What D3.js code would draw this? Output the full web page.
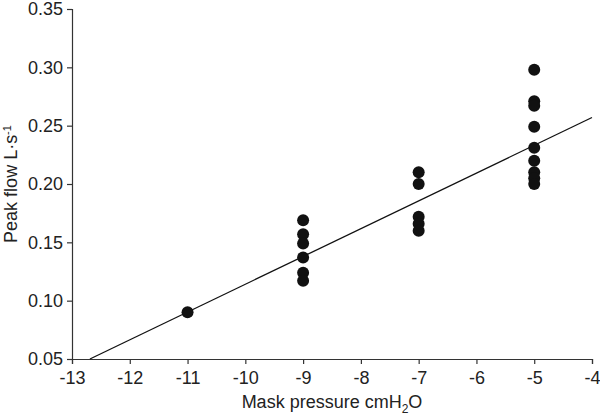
<!DOCTYPE html>
<html><head><meta charset="utf-8">
<script src="https://cdn.jsdelivr.net/npm/d3@7"></script>
<style>
body{margin:0;background:#fff;}
svg{display:block;}
text{font-family:"Liberation Sans",Arial,sans-serif;fill:#222;}
</style></head>
<body>
<svg id="chart" width="600" height="416"></svg>
<script>
// Data
const pressures = [-11, -9,-9,-9,-9,-9,-9, -7,-7,-7,-7,-7, -5,-5,-5,-5,-5,-5,-5,-5,-5];
const peakFlow  = [0.090, 0.169,0.157,0.149,0.137,0.124,0.117, 0.210,0.200,0.172,0.166,0.160, 0.298,0.271,0.267,0.249,0.231,0.220,0.210,0.205,0.200];
const fitX = [-12.69, -4];
const fitY = [0.05, 0.257];
const xTicks = [-13,-12,-11,-10,-9,-8,-7,-6,-5,-4];
const yTicks = [0.05,0.10,0.15,0.20,0.25,0.30,0.35];

const svg = d3.select("#chart");
const m = {left:72, right:8, top:9, bottom:57};
const W = 600, H = 416;
const x = d3.scaleLinear().domain([-13,-4]).range([m.left, W-m.right]);
const y = d3.scaleLinear().domain([0.05,0.35]).range([H-m.bottom, m.top]);

const xAxis = svg.append("g").attr("transform",`translate(0,${H-m.bottom})`)
  .call(d3.axisBottom(x).tickValues(xTicks).tickFormat(d=>d<0?"-"+Math.abs(d):d).tickSizeOuter(0).tickSize(5).tickPadding(7));
const yAxis = svg.append("g").attr("transform",`translate(${m.left},0)`)
  .call(d3.axisLeft(y).tickValues(yTicks).tickFormat(d3.format(".2f")).tickSizeOuter(0).tickSize(5).tickPadding(4));
[xAxis,yAxis].forEach(g=>{
  g.selectAll("path,line").attr("stroke","#333").attr("stroke-width",1.2);
  g.selectAll("text").attr("font-size",18).attr("fill","#222").attr("font-family","Liberation Sans, Arial, sans-serif");
});

// regression line
svg.append("path")
  .datum(fitX.map((d,i)=>[d,fitY[i]]))
  .attr("d", d3.line().x(d=>x(d[0])).y(d=>y(d[1])))
  .attr("stroke","#111").attr("stroke-width",1.3).attr("fill","none");

// points
svg.append("g").selectAll("circle")
  .data(pressures.map((p,i)=>[p,peakFlow[i]]))
  .join("circle")
  .attr("cx",d=>x(d[0])).attr("cy",d=>y(d[1])).attr("r",6).attr("fill","#111");

// axis labels
svg.append("text").attr("x", (m.left + W - m.right)/2).attr("y", 408)
  .attr("text-anchor","middle").attr("font-size",18)
  .html('Mask pressure cmH<tspan font-size="12" dy="5">2</tspan><tspan dy="-5">O</tspan>');
svg.append("text").attr("transform",`translate(17,${(m.top + H - m.bottom)/2}) rotate(-90)`)
  .attr("text-anchor","middle").attr("font-size",18)
  .html('Peak flow L·s<tspan font-size="11" dy="-6">-1</tspan>');
</script>
</body></html>
